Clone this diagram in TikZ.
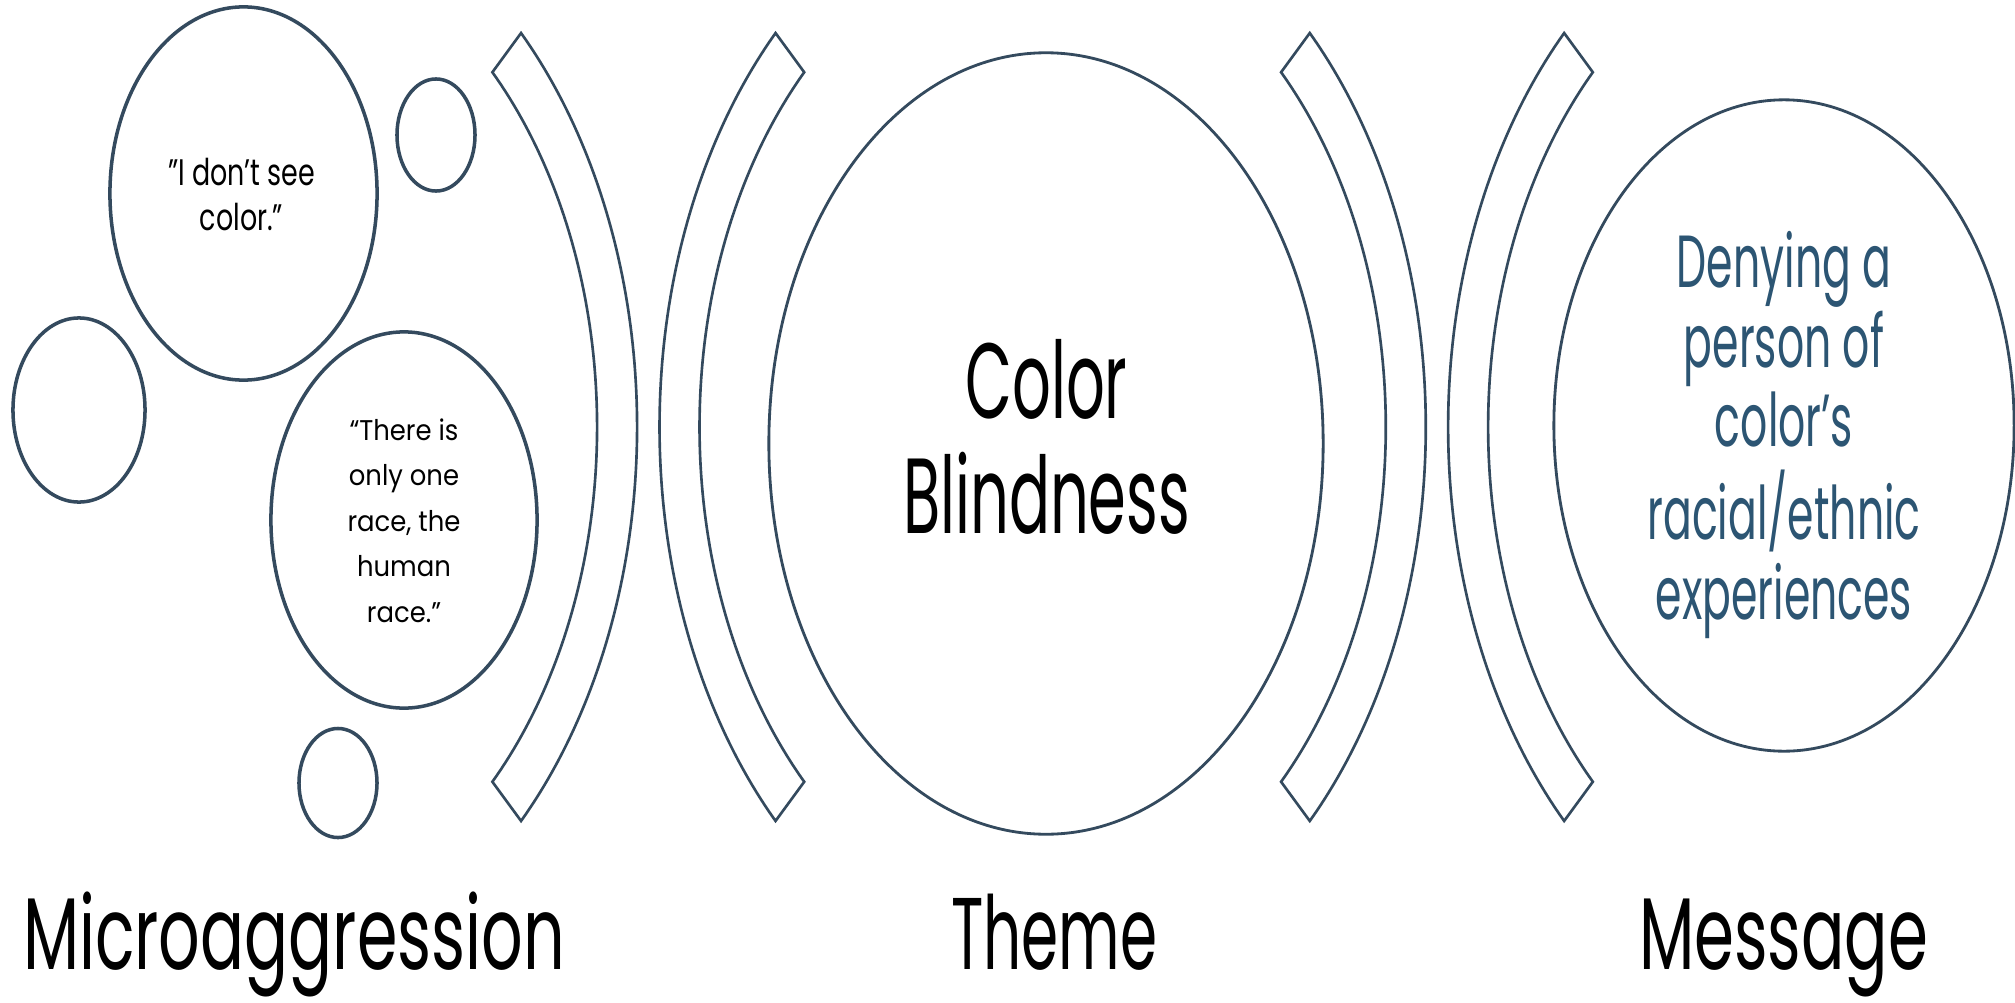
\documentclass[tikz,border=0pt]{standalone}
\usepackage{fontspec}
\setmainfont{Poppins}
\usepackage{graphicx}
\usetikzlibrary{shapes.geometric}
\definecolor{ln}{RGB}{52,74,94}
\definecolor{msg}{RGB}{44,85,115}
\newlength\px
\setlength\px{0.01cm}
\newcommand{\fitblock}[2]{\resizebox{#1\px}{\height}{\begin{tabular}[t]{@{}c@{}}#2\end{tabular}}}
\newcommand{\fitline}[2]{\resizebox{#1\px}{\height}{#2}}
\begin{document}
\begin{tikzpicture}[x=0.01cm,y=-0.01cm,
  bub/.style={ellipse,draw=ln,line width=1.0pt,inner sep=0pt,outer sep=0pt},
  big/.style={ellipse,draw=ln,line width=0.8pt,inner sep=0pt,outer sep=0pt},
  brk/.style={draw=ln,line width=0.75pt,line join=miter},
  txt/.style={anchor=base,inner sep=0pt,outer sep=0pt}]
\useasboundingbox (0,0) rectangle (2015,1003);
\fill[white] (0,0) rectangle (2015,1003);

% bubbles on the left
\node[bub,minimum width=2.67cm,minimum height=3.73cm] (qa) at (243.5,193.5) {};
\node[bub,minimum width=2.66cm,minimum height=3.76cm] (qb) at (404,520) {};
\node[bub,minimum width=1.32cm,minimum height=1.84cm] (s1) at (79,410) {};
\node[bub,minimum width=0.78cm,minimum height=1.12cm] (s2) at (436,135) {};
\node[bub,minimum width=0.78cm,minimum height=1.09cm] (s3) at (338,783) {};

% big circles
\node[big,minimum width=5.54cm,minimum height=7.81cm] (tc) at (1046,443.5) {};
\node[big,minimum width=4.60cm,minimum height=6.51cm] (mc) at (1784,425.5) {};

% brackets
\draw[brk] plot[domain=45.1:-45.1,samples=90] ({242.6+394.5*cos(\x)},{427-556.2*sin(\x)})
  -- plot[domain=-45.2:45.2,samples=90] ({242.6+354.5*cos(\x)},{427-500*sin(\x)}) -- cycle;
\draw[brk] plot[domain=45.1:-45.1,samples=90] ({1054-394.5*cos(\x)},{427-556.2*sin(\x)})
  -- plot[domain=-45.2:45.2,samples=90] ({1054-354.5*cos(\x)},{427-500*sin(\x)}) -- cycle;
\draw[brk] plot[domain=45.1:-45.1,samples=90] ({1031.3+394.5*cos(\x)},{427-556.2*sin(\x)})
  -- plot[domain=-45.2:45.2,samples=90] ({1031.3+354.5*cos(\x)},{427-500*sin(\x)}) -- cycle;
\draw[brk] plot[domain=45.1:-45.1,samples=90] ({1842.6-394.5*cos(\x)},{427-556.2*sin(\x)})
  -- plot[domain=-45.2:45.2,samples=90] ({1842.6-354.5*cos(\x)},{427-500*sin(\x)}) -- cycle;

% texts
\node[txt] (qat) at (241.5,185) {\fontsize{10.5pt}{12.8pt}\selectfont\fitblock{147}{\char"22I don’t see\\color.”}};
\node[txt] (qbt) at (404,440) {\fontsize{8.1pt}{12.95pt}\selectfont\fitblock{113}{“There is\\only one\\race, the\\human\\race.”}};
\node[txt] (tct) at (1046.5,418) {\fontsize{30.4pt}{32.7pt}\selectfont\fitblock{287}{Color\\Blindness}};
\node[txt,text=msg] (mct) at (1784,287) {\fontsize{21pt}{22.48pt}\selectfont\fitblock{273}{Denying a\\person of\\color’s\\racial/ethnic\\experiences}};

\node[txt] (l1) at (294,969) {\fontsize{29pt}{36pt}\selectfont\fitline{542}{Microaggression}};
\node[txt] (l2) at (1054,969) {\fontsize{29pt}{36pt}\selectfont\fitline{206}{Theme}};
\node[txt] (l3) at (1783.5,969) {\fontsize{29pt}{36pt}\selectfont\fitline{289}{Message}};
\end{tikzpicture}
\end{document}
